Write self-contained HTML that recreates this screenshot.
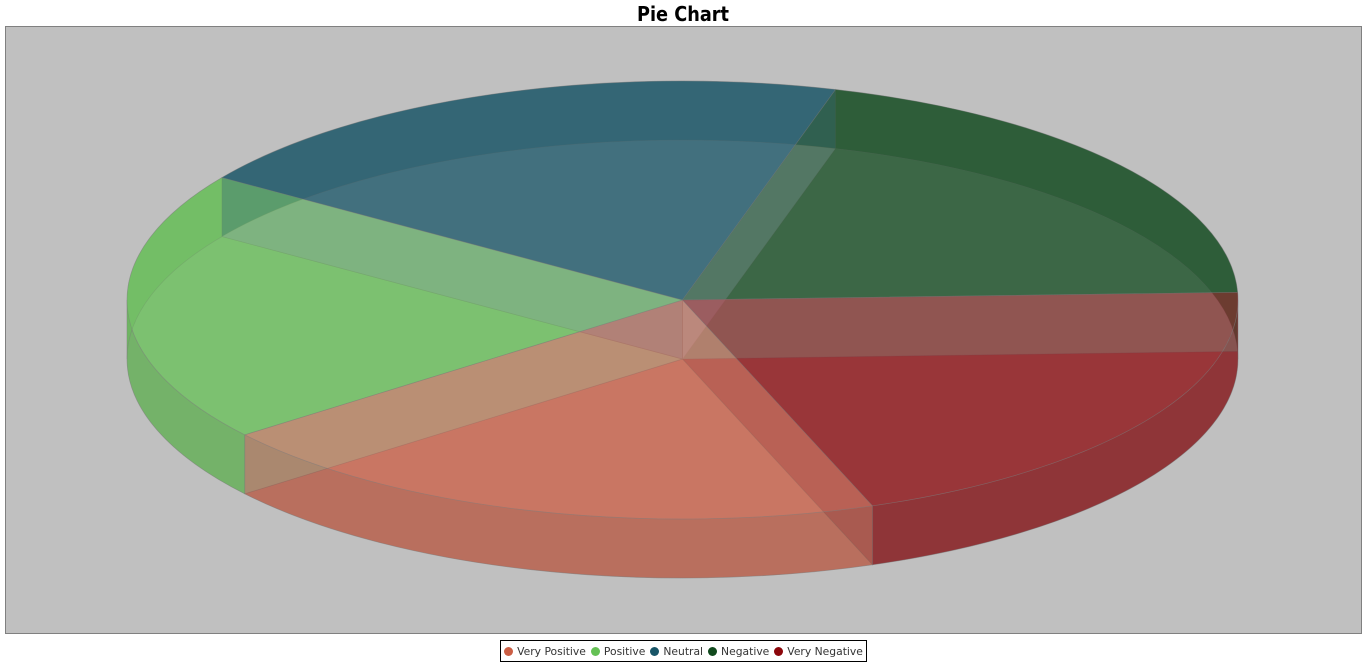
<!DOCTYPE html>
<html lang="en">
<head>
<meta charset="utf-8">
<title>Pie Chart</title>
<style>
  html, body { margin: 0; padding: 0; background: #fff; width: 1366px; height: 663px; overflow: hidden; }
  #chart-root { position: relative; width: 1366px; height: 663px; }
  #chart-svg { position: absolute; left: 0; top: 0; }
  #legend {
    position: absolute; left: 500px; top: 640px; width: 365px; height: 20px;
    border: 1px solid #000; background: #fff; display: flex; align-items: center;
    justify-content: center; gap: 5px; box-sizing: content-box;
    font: 10.75px "DejaVu Sans", "Liberation Sans", sans-serif; color: #333;
    white-space: nowrap;
  }
  .legend-entry { display: flex; align-items: center; gap: 4px; }
  .legend-dot { width: 9px; height: 9px; border-radius: 50%; display: block; }
</style>
</head>
<body>
<div id="chart-root">
  <svg id="chart-svg" width="1366" height="663" viewBox="0 0 1366 663">
    <rect x="5.5" y="26.5" width="1356" height="607" fill="#c0c0c0" stroke="#808080" stroke-width="1"></rect>
    <text x="683" y="21" text-anchor="middle" font-family="'DejaVu Sans', 'Liberation Sans', sans-serif" font-weight="700" font-size="20.5" textLength="92" lengthAdjust="spacingAndGlyphs" fill="#000">Pie Chart</text>
    <g id="pie-layer"></g>
  </svg>
  <div id="legend"></div>
</div>
<script>
const categories = ["Very Positive", "Positive", "Neutral", "Negative", "Very Negative"];
const sliceValues = [20, 20, 20, 20, 20];
const sliceColors = ["#cb5e44", "#65c155", "#185567", "#10491d", "#8c070b"];
const startAngle = -70;

const cx = 682.5, cy = 300, rx = 555.5, ry = 219, depth = 59;
const alpha = 0.5;
const outline = "#808080";
const wallFill = "#c0c0c0";
const svgNS = "http://www.w3.org/2000/svg";
const pieLayer = document.getElementById("pie-layer");
const legend = document.getElementById("legend");

function px(t) { return cx + rx * Math.cos(t * Math.PI / 180); }
function py(t, d) { return cy + d - ry * Math.sin(t * Math.PI / 180); }
function f(n) { return n.toFixed(2); }

function shade(hex, k) {
  const n = parseInt(hex.slice(1), 16);
  const r = Math.floor(((n >> 16) & 255) * k);
  const g = Math.floor(((n >> 8) & 255) * k);
  const b = Math.floor((n & 255) * k);
  return "rgb(" + r + "," + g + "," + b + ")";
}

function addPath(d, fill, name, fillAlpha) {
  const el = document.createElementNS(svgNS, "path");
  el.setAttribute("d", d);
  el.setAttribute("fill", fill);
  el.setAttribute("fill-opacity", fillAlpha);
  el.setAttribute("stroke", outline);
  el.setAttribute("stroke-opacity", "0.4");
  el.setAttribute("stroke-width", "0.7");
  
  
  pieLayer.appendChild(el);
  return el;
}

function wedgePath(a1, a2, d) {
  return "M" + f(cx) + " " + f(cy + d) +
    " L" + f(px(a1)) + " " + f(py(a1, d)) +
    " A" + rx + " " + ry + " 0 0 1 " + f(px(a2)) + " " + f(py(a2, d)) + " Z";
}

function wallPath(a) {
  return "M" + f(cx) + " " + f(cy) +
    " L" + f(px(a)) + " " + f(py(a, 0)) +
    " L" + f(px(a)) + " " + f(py(a, depth)) +
    " L" + f(cx) + " " + f(cy + depth) + " Z";
}

function bandPath(a1, a2) {
  return "M" + f(px(a1)) + " " + f(py(a1, 0)) +
    " A" + rx + " " + ry + " 0 0 1 " + f(px(a2)) + " " + f(py(a2, 0)) +
    " L" + f(px(a2)) + " " + f(py(a2, depth)) +
    " A" + rx + " " + ry + " 0 0 0 " + f(px(a1)) + " " + f(py(a1, depth)) + " Z";
}

function splitRange(a1, a2) {
  const pieces = [];
  let cur = a1;
  let brk = Math.ceil(a1 / 180 - 1e-9) * 180;
  if (brk >= cur) brk -= 180;
  while (brk > a2) {
    pieces.push([cur, brk]);
    cur = brk;
    brk -= 180;
  }
  pieces.push([cur, a2]);
  return pieces;
}

function isBackPiece(p) {
  return Math.sin((p[0] + p[1]) / 2 * Math.PI / 180) > 0;
}

const total = sliceValues.reduce(function (s, v) { return s + v; }, 0);
const ranges = [];
let angleCursor = startAngle;
for (let i = 0; i < sliceValues.length; i++) {
  const extent = 360 * sliceValues[i] / total;
  ranges.push([angleCursor, angleCursor - extent]);
  angleCursor -= extent;
}

/* bottom faces with the radial wall drawn straight after each one */
ranges.forEach(function (r, i) {
  addPath(wedgePath(r[0], r[1], depth), sliceColors[i], "slice-bottom", alpha);
  addPath(wallPath(r[0]), wallFill, "slice-wall", alpha);
});

/* outer curved sides: back rim is denser, front rim slightly shaded */
ranges.forEach(function (r, i) {
  splitRange(r[0], r[1]).forEach(function (p) {
    if (isBackPiece(p)) {
      addPath(bandPath(p[0], p[1]), shade(sliceColors[i], 0.95), "slice-side-back", 0.65);
    } else {
      addPath(bandPath(p[0], p[1]), shade(sliceColors[i], 0.85), "slice-side-front", alpha);
    }
  });
});

/* top faces */
ranges.forEach(function (r, i) {
  addPath(wedgePath(r[0], r[1], 0), sliceColors[i], "slice-top", alpha);
});

/* legend */
categories.forEach(function (label, i) {
  const entry = document.createElement("div");
  entry.className = "legend-entry";
  
  
  const dot = document.createElement("span");
  dot.className = "legend-dot";
  dot.style.background = sliceColors[i];
  
  
  const text = document.createElement("span");
  text.textContent = label;
  
  
  entry.appendChild(dot);
  entry.appendChild(text);
  legend.appendChild(entry);
});
</script>
</body>
</html>
